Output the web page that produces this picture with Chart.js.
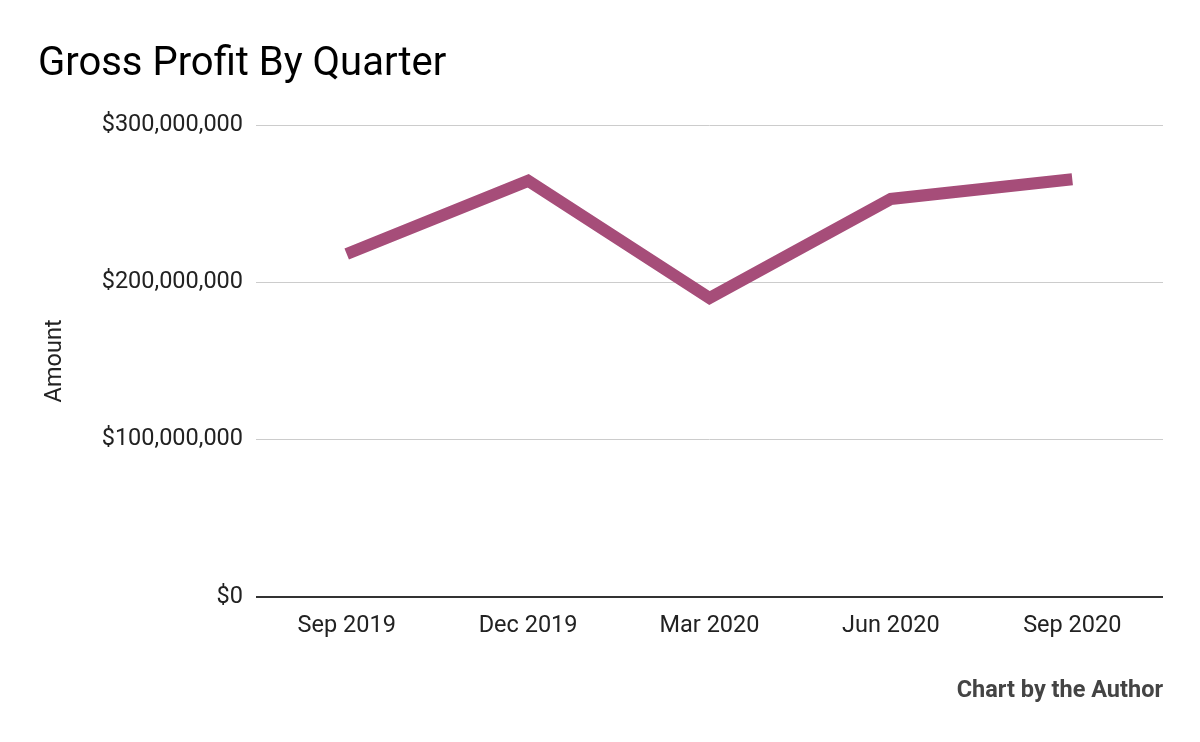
<!DOCTYPE html>
<html>
<head>
<meta charset="utf-8">
<script src="https://cdn.jsdelivr.net/npm/chart.js@4"></script>
<style>
html,body{margin:0;padding:0;background:#fff;}
#wrap{width:1200px;height:742px;position:relative;}
</style>
</head>
<body>
<div id="wrap"><canvas id="c" width="1200" height="742"></canvas></div>
<script>
const quarters = ['Sep 2019', 'Dec 2019', 'Mar 2020', 'Jun 2020', 'Sep 2020'];
const grossProfit = [218000000, 264500000, 190000000, 253000000, 265500000];
const yTicks = [0, 100000000, 200000000, 300000000];
const chartTitle = 'Gross Profit By Quarter';
const yAxisTitle = 'Amount';
const credit = 'Chart by the Author';

const fmt = v => '$' + Number(v).toLocaleString('en-US');

new Chart(document.getElementById('c'), {
  type: 'line',
  data: {
    labels: quarters,
    datasets: [{
      label: 'Gross Profit',
      data: grossProfit,
      borderColor: '#a64d79',
      backgroundColor: '#a64d79',
      borderWidth: 12,
      borderCapStyle: 'butt',
      borderJoinStyle: 'miter',
      pointRadius: 0,
      pointHoverRadius: 0,
      tension: 0,
      fill: false
    }]
  },
  options: {
    responsive: false,
    animation: false,
    devicePixelRatio: 1,
    layout: { padding: { left: 38, right: 37, top: 0, bottom: 0 } },
    plugins: {
      legend: { display: false },
      tooltip: { enabled: false },
      title: {
        display: true,
        text: chartTitle,
        align: 'start',
        color: '#000',
        font: { family: 'Roboto', size: 40, weight: 'normal', lineHeight: 1.2 },
        padding: { top: 41, bottom: 36 }
      },
      subtitle: {
        display: true,
        position: 'bottom',
        text: credit,
        align: 'end',
        color: '#444',
        font: { family: 'Roboto', size: 23.5, weight: 'bold', lineHeight: 1.2 },
        padding: { top: 0, bottom: 37 }
      }
    },
    scales: {
      x: {
        offset: true,
        grid: { display: false, drawTicks: false },
        border: { display: false },
        ticks: {
          color: '#222',
          padding: 15,
          font: { family: 'Roboto', size: 23.5 },
          maxRotation: 0
        },
        afterFit: s => { s.height = 80; }
      },
      y: {
        min: 0,
        max: 300000000,
        afterBuildTicks: s => { s.ticks = yTicks.map(v => ({ value: v })); },
        grid: {
          drawTicks: false,
          color: ctx => ctx.tick && ctx.tick.value === 0 ? '#333' : '#ccc',
          lineWidth: ctx => ctx.tick && ctx.tick.value === 0 ? 2 : 1
        },
        border: { display: false },
        ticks: {
          color: '#222',
          padding: 13,
          font: { family: 'Roboto', size: 23.5 },
          callback: v => fmt(v)
        },
        title: {
          display: true,
          text: yAxisTitle,
          color: '#222',
          font: { family: 'Roboto', size: 23.5 },
          padding: { top: 3, bottom: 4 }
        },
        afterFit: s => { s.width = 218; }
      }
    }
  }
});
</script>
</body>
</html>
